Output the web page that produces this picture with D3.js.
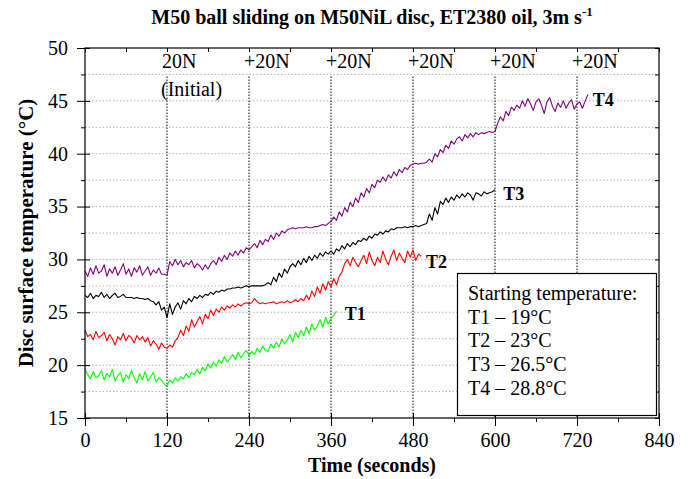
<!DOCTYPE html>
<html><head><meta charset="utf-8">
<script src="https://cdn.jsdelivr.net/npm/d3@7"></script>
<style>
body{margin:0;background:#fff}
svg{display:block}
text{font-family:"Liberation Serif","Times New Roman",serif;fill:#000}
</style>
</head><body>
<svg id="chart" width="689" height="479"></svg>
<script>
// sampling interval of the recorded temperature traces (seconds)
const sampleStep = 4;

// T1 (green), t = 0 .. 368 s
const t1Values = [19.6, 19.1, 18.7, 19.4, 18.8, 19.0, 19.5, 18.6, 19.2, 18.9, 19.6, 18.5, 19.0, 19.3, 18.4, 19.1, 18.7, 19.5, 18.8, 18.3, 19.2, 18.6, 19.4, 18.5, 18.9, 19.3, 18.4, 18.8, 18.6, 18.2, 18.0,
  18.6, 18.3, 18.8, 18.5, 18.9, 18.7, 19.2, 18.8, 19.3, 19.1, 19.6, 19.2, 19.8, 19.5, 20.1, 19.7, 20.3, 19.9, 20.5, 20.2, 20.8, 20.3, 20.6, 21.0, 20.5, 21.2, 20.7, 21.1, 21.4, 20.9,
  21.3, 21.0, 21.6, 21.2, 21.8, 21.4, 21.3, 22.0, 21.6, 22.2, 21.7, 22.5, 22.0, 22.4, 22.9, 22.2, 23.1, 22.6, 23.3, 22.8, 23.6, 23.0, 23.9, 23.3, 23.7, 24.3, 23.6, 24.5, 23.9, 24.4, 24.7, 25.1];

// T2 (red), t = 0 .. 492 s
const t2Values = [23.3, 22.7, 22.9, 22.4, 23.2, 22.6, 22.8, 23.1, 22.3, 22.9, 22.5, 21.9, 22.7, 22.4, 23.0, 22.3, 22.8, 22.6, 22.1, 22.8, 22.4, 22.7, 22.2, 22.6, 21.8, 22.3, 22.0, 21.5, 22.1, 21.7, 21.6,
  21.9, 21.7, 22.3, 22.6, 23.3, 22.8, 23.7, 23.2, 24.3, 23.6, 24.1, 24.6, 23.9, 24.8, 24.4, 25.2, 24.7, 25.3, 25.0, 25.5, 25.2, 25.6, 25.4, 25.7, 25.5, 25.8, 25.6, 25.8, 25.9, 25.8,
  25.9, 26.3, 26.0, 25.8, 25.9, 25.8, 25.9, 25.9, 26.0, 25.8, 25.9, 26.0, 25.9, 26.1, 25.9, 26.0, 26.2, 26.0, 26.3, 26.1,
  26.6, 26.2, 27.0, 26.5, 27.4, 26.8, 27.7, 27.1, 27.9, 27.4, 28.2, 27.6, 28.4, 28.8,
  29.6, 30.0, 29.4, 30.2, 29.7, 29.3, 29.9, 30.4, 29.6, 30.7, 29.9, 29.4, 30.2, 29.7, 30.8, 30.0, 29.5, 30.3, 30.9, 29.9, 30.6, 30.1, 29.7, 30.8, 30.2, 30.9, 29.9, 30.5, 30.3];

// T3 (black), t = 0 .. 600 s
const t3Values = [26.6, 26.4, 26.8, 26.3, 26.6, 26.5, 26.9, 26.4, 26.7, 26.3, 26.6, 26.8, 26.4, 26.5, 26.7, 26.4,
  26.4, 26.4, 26.3, 26.4, 26.3, 26.3, 26.2, 26.3, 26.1, 26.0,
  25.7, 26.0, 25.2, 25.5, 24.5,
  25.8, 24.8, 25.5, 25.9, 25.3, 26.1, 25.8, 26.3, 26.0, 26.5, 26.3, 26.6, 26.4, 26.7, 26.6, 26.9, 26.7, 27.0, 26.9, 27.1, 27.0, 27.2, 27.2, 27.3, 27.3, 27.4, 27.3, 27.4, 27.5, 27.4,
  27.5, 27.5, 27.5, 27.5, 27.5, 27.6,
  27.8, 27.6, 28.3, 27.9, 28.7, 28.3, 29.1, 28.7, 29.3,
  29.6, 29.3, 29.9, 29.5, 30.1, 29.7, 30.3, 29.9, 30.4, 30.1, 30.6, 30.3, 30.7, 30.5,
  30.8, 30.5, 31.0, 30.8, 31.3, 31.0, 31.5, 31.2, 31.6, 31.4, 31.8, 31.7,
  32.0, 31.8, 32.2, 32.0, 32.4, 32.3, 32.6, 32.4, 32.7, 32.6, 32.9, 32.8, 33.0,
  33.0, 33.0, 33.1, 33.0, 33.1, 33.1, 33.2, 33.1, 33.2, 33.3,
  33.4, 34.3, 33.7, 34.9, 34.3, 35.5,
  35.2, 35.8, 35.4, 35.9, 35.6, 36.1, 35.8,
  36.2, 35.9, 36.3, 36.1, 35.6, 36.3, 36.2, 36.0, 36.4, 36.2, 36.3, 36.4, 36.6];

// T4 (purple), t = 0 .. 736 s
const t4Values = [28.9, 28.4, 29.2, 28.6, 29.4, 28.7, 28.9, 29.5, 28.4, 29.1, 28.7, 29.3, 28.5, 29.0, 29.6, 28.6, 29.1, 28.4, 29.2, 28.8, 29.4, 28.5, 28.9, 29.3, 28.5, 29.0, 28.7, 29.2, 28.6, 28.6, 28.5,
  29.8, 29.4, 30.0, 29.5, 29.9, 29.3, 29.7, 29.5, 29.9, 29.2, 29.6, 29.4, 29.0, 29.5, 29.1,
  29.6, 29.9, 29.5, 30.2, 29.8, 30.4, 30.0, 30.6, 30.3, 30.8, 30.4, 30.9, 30.6, 31.1, 30.9,
  31.2, 31.5, 31.1, 31.8, 31.4, 31.9, 31.7, 32.3, 31.9, 32.5, 32.2, 32.7, 32.5, 32.8,
  32.9, 33.0, 32.9, 33.0, 33.0, 33.0, 33.1, 33.0, 33.0, 33.1, 33.1,
  33.2, 33.3, 33.2, 33.4, 33.6,
  34.0, 33.7, 34.5, 34.1, 34.9, 34.5, 35.4, 35.0, 35.8, 35.4, 36.3, 35.9, 36.7, 36.3, 37.1, 36.8, 37.5, 37.3,
  37.8, 37.4, 38.0, 37.7, 38.3, 37.9, 38.5, 38.2, 38.7, 38.5, 38.9, 39.0,
  39.1, 39.0, 39.1, 39.1, 39.2,
  39.5, 39.2, 40.0, 39.7, 40.4, 40.1, 40.8, 40.5, 41.2, 40.9, 41.4,
  41.6, 41.2, 41.8, 41.5, 41.9, 41.6, 42.0, 41.8, 42.0, 41.9, 42.0, 42.1, 42.0, 42.1,
  42.9, 43.5, 43.1, 44.0, 43.6, 44.4, 44.1, 44.6,
  44.3, 45.0, 44.5, 45.2, 44.7, 44.1, 44.9, 45.2, 44.6, 43.8, 44.9, 45.3, 44.5, 44.0, 44.8, 44.4, 45.0, 44.3, 44.8, 45.1, 44.2, 44.7, 44.9, 44.3, 45.0, 45.6];

const seriesNames = ["T1", "T2", "T3", "T4"];
const seriesColors = ["#00ff00", "#ff0000", "#000000", "#800080"];
const seriesLabelTimes = [380, 499, 612, 743];
const seriesLabelTemps = [24.27, 29.19, 35.62, 44.51];

const loadTimes = [120, 240, 360, 480, 600, 720];
const loadLabels = ["20N", "+20N", "+20N", "+20N", "+20N", "+20N"];
const loadSubLabel = "(Initial)";

const xTicks = [0, 120, 240, 360, 480, 600, 720, 840];
const xMinorTicks = [60, 180, 300, 420, 540, 660, 780];
const yTicks = [15, 20, 25, 30, 35, 40, 45, 50];
const yGrid = [17.5, 20, 22.5, 25, 27.5, 30, 32.5, 35, 37.5, 40, 42.5, 45, 47.5];
const yMinorTicks = [17.5, 22.5, 27.5, 32.5, 37.5, 42.5, 47.5];

const legendLines = ["Starting temperature:", "T1 \u2013 19\u00b0C", "T2 \u2013 23\u00b0C", "T3 \u2013 26.5\u00b0C", "T4 \u2013 28.8\u00b0C"];

const titleText = "M50 ball sliding on M50NiL disc, ET2380 oil, 3m s";
const xTitle = "Time (seconds)";
const yTitle = "Disc surface temperature (\u00b0C)";

// ---------------- drawing ----------------
const FONT = '"Liberation Serif","Times New Roman",serif';
const svg = d3.select("#chart");
const W = 689, H = 479;
const m = {left: 85, right: 30, top: 48, bottom: 61};
const x = d3.scaleLinear().domain([0, 840]).range([m.left, W - m.right]);
const y = d3.scaleLinear().domain([15, 50]).range([H - m.bottom, m.top]);
const x0 = x.range()[0], x1 = x.range()[1], yB = y.range()[0], yT = y.range()[1];

// horizontal dotted gridlines
svg.append("g").selectAll("line").data(yGrid).join("line")
  .attr("x1", x0).attr("x2", x1)
  .attr("y1", d => y(d)).attr("y2", d => y(d))
  .attr("stroke", "#b4b4b4").attr("stroke-width", 1).attr("stroke-dasharray", "1.5,2");

// vertical load-step lines
svg.append("g").selectAll("line").data(loadTimes).join("line")
  .attr("x1", d => x(d)).attr("x2", d => x(d))
  .attr("y1", y(47.3)).attr("y2", yB)
  .attr("stroke", "#000").attr("stroke-width", 1).attr("stroke-dasharray", "1.5,1.5");

// load labels
svg.append("g").selectAll("text").data(loadLabels).join("text")
  .attr("x", (d, i) => x(loadTimes[i]) - 5).attr("y", 68)
  .attr("font-family", FONT).attr("font-size", 20).text(d => d);
svg.append("text").attr("x", x(loadTimes[0]) - 6).attr("y", 96)
  .attr("font-family", FONT).attr("font-size", 20).text(loadSubLabel);

// series
const allSeries = [t1Values, t2Values, t3Values, t4Values];
const line = d3.line().x((d, i) => x(i * sampleStep)).y(d => y(d));
allSeries.forEach((vals, k) => {
  svg.append("path").datum(vals).attr("d", line)
    .attr("fill", "none").attr("stroke", seriesColors[k]).attr("stroke-width", 1.1)
    .attr("stroke-linejoin", "round");
});

// series labels
svg.append("g").selectAll("text").data(seriesNames).join("text")
  .attr("x", (d, i) => x(seriesLabelTimes[i])).attr("y", (d, i) => y(seriesLabelTemps[i]))
  .attr("font-family", FONT).attr("font-size", 18).attr("font-weight", "bold").text(d => d);

// axes
function styleAxis(g) {
  g.attr("font-family", FONT);
  g.select(".domain").remove();
  g.selectAll("line").attr("stroke", "#000");
  g.selectAll("text").attr("font-size", 20).attr("font-family", FONT);
}
svg.append("g").attr("transform", `translate(0,${yB})`)
  .call(d3.axisBottom(x).tickValues(xTicks).tickSizeInner(8).tickSizeOuter(0).tickPadding(7).tickFormat(d3.format("d")))
  .call(styleAxis);
svg.append("g").attr("transform", `translate(0,${yB})`)
  .call(d3.axisBottom(x).tickValues(xTicks).tickSize(-5).tickFormat(""))
  .call(styleAxis);
svg.append("g").attr("transform", `translate(0,${yB})`)
  .call(d3.axisBottom(x).tickValues(xMinorTicks).tickSize(4).tickFormat(""))
  .call(styleAxis);
svg.append("g").attr("transform", `translate(${x0},0)`)
  .call(d3.axisLeft(y).tickValues(yTicks).tickSizeInner(8).tickSizeOuter(0).tickPadding(9).tickFormat(d3.format("d")))
  .call(styleAxis);
svg.append("g").attr("transform", `translate(${x0},0)`)
  .call(d3.axisLeft(y).tickValues(yTicks).tickSize(-5).tickFormat(""))
  .call(styleAxis);
svg.append("g").attr("transform", `translate(${x0},0)`)
  .call(d3.axisLeft(y).tickValues(yMinorTicks).tickSize(4).tickFormat(""))
  .call(styleAxis);
svg.append("g").attr("transform", `translate(0,${yT})`)
  .call(d3.axisTop(x).tickValues(xTicks.concat(xMinorTicks)).tickSize(-4).tickFormat(""))
  .call(styleAxis);
svg.append("g").attr("transform", `translate(${x1},0)`)
  .call(d3.axisRight(y).tickValues(yTicks.concat(yMinorTicks)).tickSize(-4).tickFormat(""))
  .call(styleAxis);

// frame
svg.append("rect").attr("x", x0).attr("y", yT).attr("width", x1 - x0).attr("height", yB - yT)
  .attr("fill", "none").attr("stroke", "#000").attr("stroke-width", 1.2);

// legend box
const lg = svg.append("g");
lg.append("rect").attr("x", 457.5).attr("y", 273.5).attr("width", 199).attr("height", 142)
  .attr("fill", "#fff").attr("stroke", "#000").attr("stroke-width", 1.2);
lg.selectAll("text").data(legendLines).join("text")
  .attr("x", 468).attr("y", (d, i) => 300 + i * 23.7)
  .attr("font-family", FONT).attr("font-size", 20).text(d => d);

// titles
const tt = svg.append("text").attr("x", (x0 + x1) / 2).attr("y", 24).attr("text-anchor", "middle")
  .attr("font-family", FONT).attr("font-size", 20).attr("font-weight", "bold");
tt.append("tspan").text(titleText);
tt.append("tspan").attr("font-size", 13).attr("dy", -8).text("-1");
svg.append("text").attr("x", (x0 + x1) / 2).attr("y", 472).attr("text-anchor", "middle")
  .attr("font-family", FONT).attr("font-size", 20).attr("font-weight", "bold").text(xTitle);
svg.append("text").attr("transform", `translate(33,${(yT + yB) / 2}) rotate(-90)`).attr("text-anchor", "middle")
  .attr("font-family", FONT).attr("font-size", 21).attr("font-weight", "bold").text(yTitle);
</script>
</body></html>
